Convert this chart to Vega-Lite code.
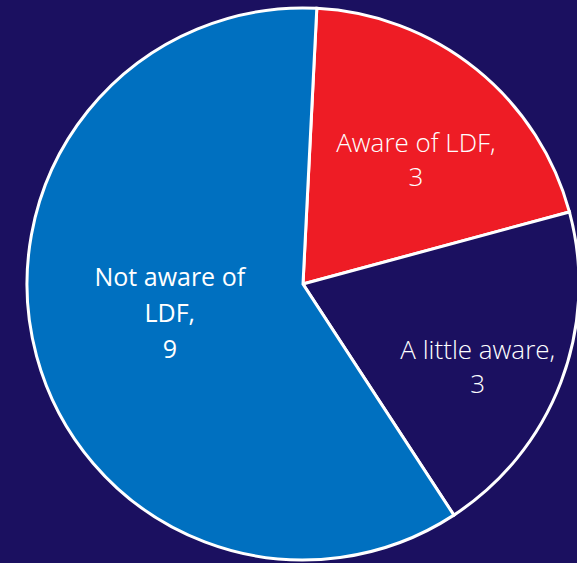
{
  "$schema": "https://vega.github.io/schema/vega-lite/v6.json",
  "width": 606,
  "height": 568,
  "autosize": {"type": "none"},
  "padding": 0,
  "background": "#1b1060",
  "config": {"view": {"stroke": null}},
  "data": {
    "values": [
      {"category": "Aware of LDF", "label": "Aware of LDF", "count": 3, "rank": 1},
      {"category": "A little aware", "label": "A little aware", "count": 3, "rank": 2},
      {"category": "Not aware of LDF", "label": "Not aware of\nLDF", "count": 9, "rank": 3}
    ]
  },
  "transform": [
    {"calculate": "datum.label + ',\\n' + datum.count", "as": "text"}
  ],
  "encoding": {
    "theta": {"field": "count", "type": "quantitative", "stack": true, "scale": {"range": [0.05, 6.3332]}},
    "order": {"field": "rank", "type": "quantitative"}
  },
  "layer": [
    {
      "mark": {"type": "arc", "outerRadius": 276, "stroke": "white", "strokeWidth": 3},
      "encoding": {
        "color": {
          "field": "category",
          "type": "nominal",
          "scale": {"domain": ["Aware of LDF", "A little aware", "Not aware of LDF"], "range": ["#ee1c25", "#1b1060", "#0070c0"]},
          "legend": null
        }
      }
    },
    {
      "mark": {"type": "text", "radius": 180, "lineBreak": "\n", "font": "Open Sans", "fontWeight": 300, "fontSize": 26, "lineHeight": 34, "color": "white", "align": "center", "baseline": "middle"},
      "encoding": {
        "text": {"condition": {"test": "datum.category === 'Aware of LDF'", "field": "text"}, "value": ""}
      }
    },
    {
      "mark": {"type": "text", "radius": 187, "lineBreak": "\n", "font": "Open Sans", "fontWeight": 300, "fontSize": 26, "lineHeight": 34, "color": "white", "align": "center", "baseline": "middle"},
      "encoding": {
        "text": {"condition": {"test": "datum.category === 'A little aware'", "field": "text"}, "value": ""}
      }
    },
    {
      "mark": {"type": "text", "radius": 138, "dy": -42, "lineBreak": "\n", "font": "Open Sans", "fontWeight": 400, "fontSize": 25, "lineHeight": 36, "color": "white", "align": "center", "baseline": "middle"},
      "encoding": {
        "text": {"condition": {"test": "datum.category === 'Not aware of LDF'", "field": "text"}, "value": ""}
      }
    }
  ]
}
